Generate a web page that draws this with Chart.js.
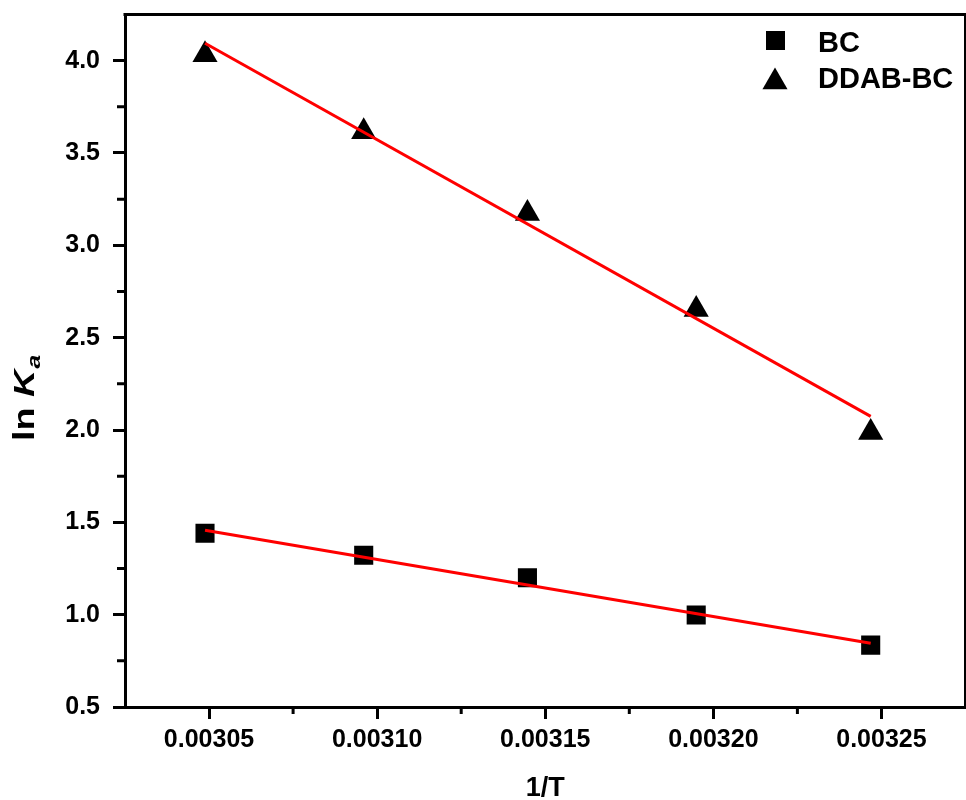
<!DOCTYPE html>
<html>
<head>
<meta charset="utf-8">
<script src="https://cdn.jsdelivr.net/npm/chart.js@4.4.1/dist/chart.umd.min.js"></script>
<style>
  html, body { margin: 0; padding: 0; background: #fff; overflow: hidden; }
  #c { display: block; width: 980px; height: 800px; }
</style>
</head>
<body>
<canvas id="c" width="980" height="800"></canvas>
<script>
// ---- data ----
const invT = [0.0030488, 0.0030960, 0.0031447, 0.0031949, 0.0032468];
const lnKaBC = [1.441, 1.322, 1.200, 0.998, 0.835];
const lnKaDDAB = [4.032, 3.615, 3.172, 2.652, 1.987];
const fitX = [0.0030488, 0.0032468];
const fitBC = [1.457, 0.845];
const fitDDAB = [4.094, 2.074];
const xTickValues = [0.00305, 0.00310, 0.00315, 0.00320, 0.00325];
const yTickValues = [0.5, 1.0, 1.5, 2.0, 2.5, 3.0, 3.5, 4.0];
const xMinorTicks = [0.003075, 0.003125, 0.003175, 0.003225];
const yMinorTicks = [0.75, 1.25, 1.75, 2.25, 2.75, 3.25, 3.75];
const seriesNames = ['BC', 'DDAB-BC'];
const xTitle = '1/T';

const FONT = '"Liberation Sans", Arial, sans-serif';

function pts(xs, ys) { return xs.map((x, i) => ({ x: x, y: ys[i] })); }

function zeroPad(s) { s.paddingTop = 0; s.paddingBottom = 0; s.paddingLeft = 0; s.paddingRight = 0; }

const framePlugin = {
  id: 'frame',
  afterDraw(chart) {
    const ctx = chart.ctx;
    const a = chart.chartArea;
    const xs = chart.scales.x, ys = chart.scales.y;
    ctx.save();
    ctx.strokeStyle = '#000';
    ctx.lineWidth = 3;
    // top and right frame
    ctx.beginPath();
    ctx.moveTo(a.left - 1.5, a.top);
    ctx.lineTo(a.right, a.top);
    ctx.lineTo(a.right, a.bottom);
    ctx.stroke();
    // minor ticks
    ctx.beginPath();
    xMinorTicks.forEach(v => {
      const px = xs.getPixelForValue(v);
      ctx.moveTo(px, a.bottom);
      ctx.lineTo(px, a.bottom + 7);
    });
    yMinorTicks.forEach(v => {
      const py = ys.getPixelForValue(v);
      ctx.moveTo(a.left, py);
      ctx.lineTo(a.left - 8, py);
    });
    ctx.stroke();

    // legend
    ctx.fillStyle = '#000';
    ctx.fillRect(766, 31, 19, 19);
    ctx.beginPath();
    const tx = 775, ty = 82, r = 14.5;
    ctx.moveTo(tx, ty - r);
    ctx.lineTo(tx + r * Math.sqrt(3) / 2, ty + r / 2);
    ctx.lineTo(tx - r * Math.sqrt(3) / 2, ty + r / 2);
    ctx.closePath();
    ctx.fill();
    ctx.font = 'bold 29px ' + FONT;
    ctx.textAlign = 'left';
    ctx.textBaseline = 'alphabetic';
    ctx.fillText(seriesNames[0], 818, 52);
    ctx.fillText(seriesNames[1], 818, 88);

    // x title
    ctx.textAlign = 'center';
    ctx.font = 'bold 27px ' + FONT;
    ctx.fillText(xTitle, (a.left + a.right) / 2, 796);

    // y title: ln K_a
    ctx.translate(34, 441);
    ctx.rotate(-Math.PI / 2);
    ctx.scale(1.3, 1);
    ctx.textAlign = 'left';
    ctx.font = 'bold 29px ' + FONT;
    let w = 0;
    ctx.fillText('ln ', 0, 0);
    w += ctx.measureText('ln ').width;
    ctx.font = 'italic bold 29px ' + FONT;
    ctx.fillText('K', w, 0);
    w += ctx.measureText('K').width + 1;
    ctx.font = 'italic bold 19px ' + FONT;
    ctx.fillText('a', w, 6);
    ctx.restore();
  }
};

new Chart(document.getElementById('c'), {
  type: 'scatter',
  data: {
    datasets: [
      { type: 'line', label: 'fit BC', data: pts(fitX, fitBC), borderColor: '#ff0000', borderWidth: 3, pointRadius: 0, fill: false, order: 0 },
      { type: 'line', label: 'fit DDAB-BC', data: pts(fitX, fitDDAB), borderColor: '#ff0000', borderWidth: 3, pointRadius: 0, fill: false, order: 0 },
      { label: seriesNames[0], data: pts(invT, lnKaBC), pointStyle: 'rect', pointRadius: 13.5, backgroundColor: '#000', borderColor: '#000', borderWidth: 0, order: 1 },
      { label: seriesNames[1], data: pts(invT, lnKaDDAB), pointStyle: 'triangle', pointRadius: 14.5, backgroundColor: '#000', borderColor: '#000', borderWidth: 0, order: 1 }
    ]
  },
  options: {
    responsive: false,
    maintainAspectRatio: false,
    devicePixelRatio: 1,
    animation: false,
    events: [],
    layout: { padding: { top: 14, right: 5, left: 0, bottom: 0 } },
    plugins: { legend: { display: false }, tooltip: { enabled: false } },
    scales: {
      x: {
        type: 'linear',
        min: 0.003025,
        max: 0.003275,
        afterBuildTicks: s => { s.ticks = xTickValues.map(v => ({ value: v })); },
        afterFit: s => { s.height = 93; zeroPad(s); },
        border: { display: true, color: '#000', width: 3 },
        grid: { display: true, drawOnChartArea: false, drawTicks: true, tickLength: 12, tickWidth: 3, tickColor: '#000', color: '#000', lineWidth: 3 },
        ticks: {
          color: '#000', padding: 6, maxRotation: 0, autoSkip: false,
          font: { family: FONT, size: 25, weight: 'bold' },
          callback: v => Number(v).toFixed(5)
        }
      },
      y: {
        type: 'linear',
        min: 0.5,
        max: 4.25,
        afterBuildTicks: s => { s.ticks = yTickValues.map(v => ({ value: v })); },
        afterFit: s => { s.width = 125; zeroPad(s); },
        border: { display: true, color: '#000', width: 3 },
        grid: { display: true, drawOnChartArea: false, drawTicks: true, tickLength: 12, tickWidth: 3, tickColor: '#000', color: '#000', lineWidth: 3 },
        ticks: {
          color: '#000', padding: 13, autoSkip: false,
          font: { family: FONT, size: 25, weight: 'bold' },
          callback: v => Number(v).toFixed(1)
        }
      }
    }
  },
  plugins: [framePlugin]
});
</script>
</body>
</html>
